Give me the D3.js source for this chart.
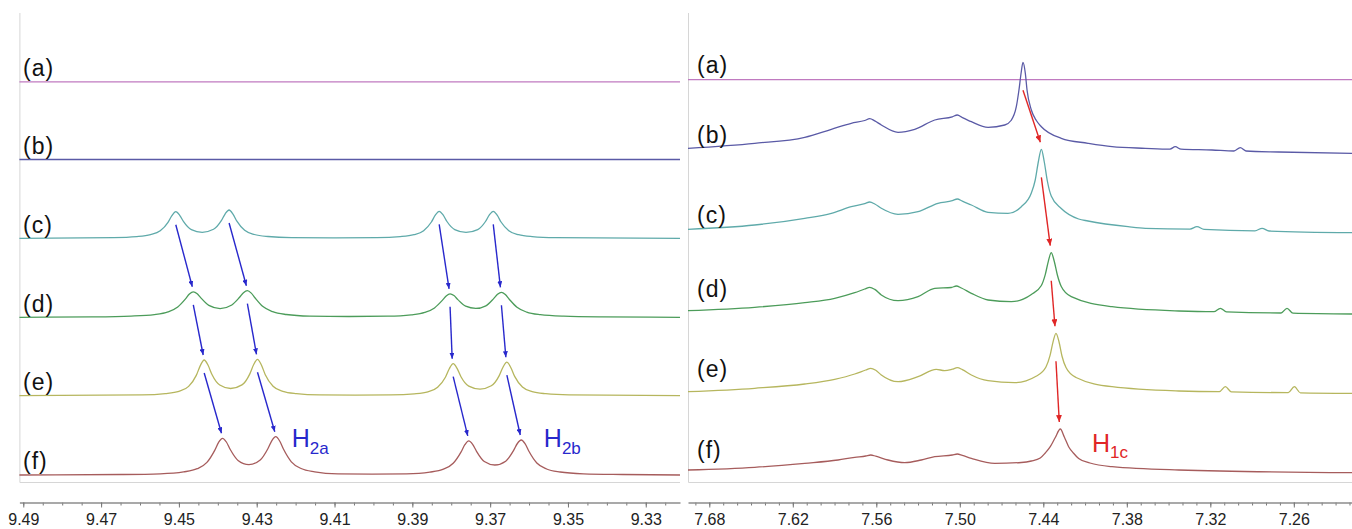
<!DOCTYPE html>
<html>
<head>
<meta charset="utf-8">
<script src="https://cdn.jsdelivr.net/npm/d3@7"></script>
<style>
  body { margin: 0; background: #fff; }
  svg { display: block; font-family: Arial, "Liberation Sans", sans-serif; }
</style>
</head>
<body>
<div id="chartDiv"></div>
<script>
// ---------- data ----------
const traceNames = ["(a)", "(b)", "(c)", "(d)", "(e)", "(f)"];
const traceColors = ["#c07ac0", "#5a5aa6", "#5faaaa", "#4c9c5a", "#b6b65e", "#a65c5c"];

const leftTicks = [9.49, 9.47, 9.45, 9.43, 9.41, 9.39, 9.37, 9.35, 9.33];
const rightTicks = [7.68, 7.62, 7.56, 7.50, 7.44, 7.38, 7.32, 7.26];

// H2 window (ppm, intensity a.u.)
const h2_a = [[9.4910, 0], [9.3212, 0]];
const h2_b = [[9.4910, 0], [9.3212, 0]];
const h2_c = [[9.4910,0],[9.4668,0.7],[9.4608,1.7],[9.4573,3.6],[9.4548,7.5],[9.4528,16.0],[9.4518,22.7],[9.4508,26.6],[9.4498,23.0],[9.4488,16.6],[9.4468,8.6],[9.4440,6.0],[9.4411,9.0],[9.4391,17.6],[9.4381,24.5],[9.4371,28.3],[9.4361,24.2],[9.4351,17.1],[9.4331,8.0],[9.4306,3.8],[9.4271,1.8],[9.4211,0.7],[9.4101,0.5],[9.3991,0.7],[9.3931,1.7],[9.3896,3.6],[9.3871,7.6],[9.3851,16.3],[9.3841,23.1],[9.3831,27.0],[9.3821,23.4],[9.3811,16.8],[9.3791,8.7],[9.3762,5.9],[9.3732,8.7],[9.3712,16.8],[9.3702,23.4],[9.3692,27.0],[9.3682,23.1],[9.3672,16.3],[9.3652,7.6],[9.3627,3.6],[9.3592,1.7],[9.3532,0.7],[9.3212,0]];
const h2_d = [[9.4910,0],[9.4723,0.4],[9.4623,1.2],[9.4563,2.7],[9.4528,5.4],[9.4503,10.3],[9.4483,18.4],[9.4473,23.2],[9.4463,25.5],[9.4453,23.6],[9.4443,19.2],[9.4423,11.9],[9.4394,8.7],[9.4364,12.3],[9.4344,20.0],[9.4334,24.6],[9.4324,26.6],[9.4314,24.2],[9.4304,19.3],[9.4284,10.7],[9.4259,5.6],[9.4224,2.8],[9.4164,1.2],[9.4064,0.8],[9.3963,1.1],[9.3903,2.5],[9.3868,4.9],[9.3843,9.4],[9.3823,16.9],[9.3813,21.3],[9.3803,23.5],[9.3793,21.7],[9.3783,17.7],[9.3763,11.1],[9.3737,8.9],[9.3711,11.5],[9.3691,18.7],[9.3681,23.0],[9.3671,25.0],[9.3661,22.7],[9.3651,18.1],[9.3631,10.0],[9.3606,5.2],[9.3571,2.6],[9.3511,1.1],[9.3411,0.4],[9.3212,0]];
const h2_e = [[9.4910,0],[9.4595,0.8],[9.4535,2.1],[9.4500,4.3],[9.4475,9.3],[9.4455,20.6],[9.4445,30.1],[9.4435,35.7],[9.4425,30.4],[9.4415,21.2],[9.4395,10.7],[9.4367,7.2],[9.4338,10.8],[9.4318,21.6],[9.4308,31.0],[9.4298,36.4],[9.4288,30.7],[9.4278,21.0],[9.4258,9.5],[9.4233,4.4],[9.4198,2.1],[9.4138,0.8],[9.4047,0.6],[9.3955,0.8],[9.3895,1.9],[9.3860,3.9],[9.3835,8.4],[9.3815,18.5],[9.3805,27.0],[9.3795,32.0],[9.3785,27.3],[9.3775,19.0],[9.3755,9.6],[9.3726,6.6],[9.3697,9.9],[9.3677,19.8],[9.3667,28.5],[9.3657,33.5],[9.3647,28.2],[9.3637,19.3],[9.3617,8.7],[9.3592,4.1],[9.3557,2.0],[9.3497,0.8],[9.3212,0]];
const h2_f = [[9.4910,0],[9.4648,0.5],[9.4548,1.2],[9.4488,3.1],[9.4453,6.3],[9.4428,12.6],[9.4408,24.6],[9.4398,32.6],[9.4388,36.7],[9.4378,33.0],[9.4368,25.5],[9.4348,14.6],[9.4320,10.4],[9.4291,15.0],[9.4271,26.5],[9.4261,34.4],[9.4251,38.3],[9.4241,34.0],[9.4231,25.7],[9.4211,13.2],[9.4186,6.5],[9.4151,3.2],[9.4091,1.2],[9.4003,0.9],[9.3915,1.2],[9.3855,2.9],[9.3820,5.8],[9.3795,11.7],[9.3775,22.9],[9.3765,30.3],[9.3755,34.1],[9.3745,30.7],[9.3735,23.7],[9.3715,13.5],[9.3688,10.0],[9.3660,13.8],[9.3640,24.3],[9.3630,31.5],[9.3620,35.0],[9.3610,31.1],[9.3600,23.5],[9.3580,12.0],[9.3555,6.0],[9.3520,3.0],[9.3460,1.2],[9.3360,0.5],[9.3212,0]];

// H1 window (ppm, intensity a.u.)
const h1_a = [[7.6953, 0], [7.2182, 0]];
const h1_b = [[7.6953,5.2],[7.6474,10.2],[7.6114,16.2],[7.5923,24.2],[7.5780,30.2],[7.5683,33.0],[7.5647,34.8],[7.5611,32.6],[7.5564,28.5],[7.5444,21.2],[7.5324,24.2],[7.5180,33.5],[7.5054,36.7],[7.5018,38.5],[7.4982,36.0],[7.4917,31.8],[7.4797,26.2],[7.4677,28.5],[7.4632,33],[7.4594,46.8],[7.4575,63.5],[7.4560,80],[7.4546,91.2],[7.4529,80],[7.4517,63.5],[7.4486,43.5],[7.4450,33],[7.4414,26.8],[7.4271,15.2],[7.4079,10.2],[7.3906,6.8],[7.3667,5.2],[7.3490,4.4],[7.3452,6.8],[7.3411,4.3],[7.3188,3.5],[7.3030,2.5],[7.2985,5.8],[7.2944,2.5],[7.2709,1.5],[7.2182,0.2]];
const h1_c = [[7.6953,3.7],[7.6474,8],[7.6114,14.7],[7.5923,19.7],[7.5780,26.3],[7.5683,29.3],[7.5647,31],[7.5611,29.0],[7.5564,24.7],[7.5444,18.7],[7.5300,21.3],[7.5157,29.7],[7.5054,32.3],[7.5018,34],[7.4982,31.8],[7.4917,28],[7.4797,20.7],[7.4654,19.7],[7.4558,26.3],[7.4486,40],[7.4458,53],[7.4436,71],[7.4414,83.7],[7.4393,71],[7.4371,52],[7.4343,37],[7.4271,24.5],[7.4146,14],[7.4079,12],[7.3791,6.3],[7.3667,4.7],[7.3346,3.9],[7.3296,6.3],[7.3245,3.6],[7.2879,2.2],[7.2828,4.7],[7.2778,2],[7.2182,0.3]];
const h1_d = [[7.6953,3.3],[7.6474,6.7],[7.6114,11.3],[7.5899,15.7],[7.5755,21.3],[7.5683,25],[7.5647,26.7],[7.5611,24.6],[7.5564,19],[7.5444,13.3],[7.5300,17.3],[7.5180,25.7],[7.5061,26.5],[7.5025,28],[7.4989,26],[7.4917,20.7],[7.4797,14],[7.4630,12.3],[7.4486,19.5],[7.4414,28.5],[7.4386,39.4],[7.4364,52.7],[7.4343,61.3],[7.4321,52.5],[7.4299,39],[7.4271,27.5],[7.4199,17.3],[7.3906,7.3],[7.3427,3],[7.3174,2.3],[7.3128,5.7],[7.3084,2.2],[7.2692,1],[7.2649,5.7],[7.2606,0.8],[7.2182,0]];
const h1_e = [[7.6953,2.3],[7.6474,5.7],[7.6114,10],[7.5899,14.7],[7.5755,20],[7.5676,24],[7.5640,25.7],[7.5604,23.7],[7.5564,19],[7.5444,12.3],[7.5300,17.3],[7.5169,24.7],[7.5109,23.3],[7.5054,24.8],[7.5018,26.3],[7.4982,24.4],[7.4917,19],[7.4797,13.3],[7.4606,11.3],[7.4452,17.7],[7.4381,27],[7.4352,38.3],[7.4330,52.2],[7.4309,60.7],[7.4287,52],[7.4266,38],[7.4237,26.5],[7.4165,16.5],[7.3906,7.3],[7.3427,3],[7.3135,2.3],[7.3092,7.3],[7.3049,2.2],[7.2640,1.4],[7.2596,7.3],[7.2553,1.2],[7.2182,0.7]];
const h1_f = [[7.6953,3],[7.6474,5.7],[7.6114,9.7],[7.5875,13],[7.5755,15.7],[7.5676,17],[7.5640,18],[7.5604,16.8],[7.5516,13],[7.5396,10.3],[7.5277,13],[7.5180,16.3],[7.5054,18],[7.5018,19],[7.4982,17.6],[7.4917,14.7],[7.4749,9.7],[7.4558,10.5],[7.4486,12],[7.4422,15],[7.4386,20],[7.4350,26.3],[7.4314,35.5],[7.4278,44],[7.4249,36],[7.4218,26.3],[7.4184,20],[7.4146,14.5],[7.4065,10],[7.3906,6.3],[7.3427,3],[7.2182,0.3]];

// peak shifts: [from ppm, to ppm, upper trace index]
const h2Shifts = [
  [9.4508, 9.4463, 2], [9.4371, 9.4324, 2], [9.3831, 9.3803, 2], [9.3692, 9.3671, 2],
  [9.4463, 9.4435, 3], [9.4324, 9.4298, 3], [9.3803, 9.3795, 3], [9.3671, 9.3657, 3],
  [9.4435, 9.4388, 4], [9.4298, 9.4251, 4], [9.3795, 9.3755, 4], [9.3657, 9.3620, 4]
];
const h1Shifts = [[7.4546, 7.4414, 1], [7.4414, 7.4343, 2], [7.4343, 7.4309, 3], [7.4309, 7.4278, 4]];

// peak labels: [main, subscript, ppm]
const h2Labels = [["H", "2a", 9.4210], ["H", "2b", 9.3562]];
const h1Labels = [["H", "1c", 7.4050]];

// ---------- layout ----------
const W = 1352, H = 529;
const axisY = 502.5, frameTop = 13, frameBottom = 482.5;

const panels = [
  {
    domain: [9.4910, 9.3212], range: [19.4, 680],
    traces: [h2_a, h2_b, h2_c, h2_d, h2_e, h2_f],
    base: [81.8, 159.5, 238.3, 317.3, 395.7, 475],
    labelX: 23, labelY: [76.2, 153.9, 232.7, 311.7, 390.1, 469.4],
    ticks: leftTicks, minor: d3.range(9325, 9495, 5).map(v => v / 1000),
    shifts: h2Shifts, shiftColor: "#2828cc", gapStart: 13, gapEnd: 5, head: "headBlue",
    peakLabels: h2Labels, peakLabelRise: 28
  },
  {
    domain: [7.6953, 7.2182], range: [688, 1352],
    traces: [h1_a, h1_b, h1_c, h1_d, h1_e, h1_f],
    base: [79.7, 153.5, 233, 314, 394, 473],
    labelX: 697, labelY: [73.4, 143.4, 223.4, 296.8, 376.8, 458.4],
    ticks: rightTicks, minor: d3.range(722, 770, 1).map(v => v / 100),
    shifts: h1Shifts, shiftColor: "#e02626", gapStart: 28, gapEnd: 7, head: "headRed",
    peakLabels: h1Labels, peakLabelRise: 21.3
  }
];

const svg = d3.select("#chartDiv").append("svg")
  .attr("width", W)
  .attr("height", H);

svg.append("rect").attr("width", W).attr("height", H).attr("fill", "#fff");

// arrow heads
const defs = svg.append("defs");
function makeHead(id, color, len, wid) {
  defs.append("marker")
    .attr("id", id)
    .attr("markerUnits", "userSpaceOnUse")
    .attr("viewBox", `0 0 ${len} ${wid}`)
    .attr("markerWidth", len)
    .attr("markerHeight", wid)
    .attr("refX", len)
    .attr("refY", wid / 2)
    .attr("orient", "auto")
    .append("path")
    .attr("d", `M0,0L${len},${wid / 2}L0,${wid}Z`)
    .attr("fill", color);
}
makeHead("headBlue", "#2828cc", 6, 5);
makeHead("headRed", "#e02626", 7, 6);

function peakNear(series, ppm) {
  return d3.max(series.filter(d => Math.abs(d[0] - ppm) < 0.0006), d => d[1]);
}

function drawPanel(p) {
  const x = d3.scaleLinear().domain(p.domain).range(p.range);
  // intensity scale per trace, 1 a.u. per pixel
  const yOf = i => d3.scaleLinear().domain([0, 100]).range([p.base[i], p.base[i] - 100]);

  const g = svg.append("g");

  // frame
  g.append("path")
    .attr("d", `M${p.range[0] + 0.5},${frameTop}V${frameBottom}H${p.range[1]}`)
    .attr("fill", "none")
    .attr("stroke", "#d6d6d6")
    .attr("stroke-width", 1);

  // spectra
  p.traces.forEach((series, i) => {
    const y = yOf(i);
    const line = d3.line()
      .x(d => x(d[0]))
      .y(d => y(d[1]))
      .curve(d3.curveMonotoneX);
    g.append("path")
      .datum(series)
      .attr("d", line)
      .attr("fill", "none")
      .attr("stroke", traceColors[i])
      .attr("stroke-width", 1.3);
  });

  // trace letters
  g.selectAll("text.trace")
    .data(traceNames)
    .enter().append("text")
    .attr("class", "trace")
    .attr("x", p.labelX)
    .attr("y", (d, i) => p.labelY[i])
    .attr("font-size", 23)
    .attr("letter-spacing", 1)
    .attr("fill", "#111")
    .text(d => d);

  // shift arrows
  p.shifts.forEach(s => {
    const up = s[2], lo = s[2] + 1;
    const topUp = yOf(up)(peakNear(p.traces[up], s[0]));
    const topLo = yOf(lo)(peakNear(p.traces[lo], s[1]));
    g.append("line")
      .attr("x1", x(s[0]))
      .attr("y1", topUp + p.gapStart)
      .attr("x2", x(s[1]) - 1)
      .attr("y2", topLo - p.gapEnd)
      .attr("stroke", p.shiftColor)
      .attr("stroke-width", 1.4)
      .attr("marker-end", `url(#${p.head})`);
  });

  // peak names
  const yLast = yOf(5);
  p.peakLabels.forEach(l => {
    const t = g.append("text")
      .attr("x", x(l[2]))
      .attr("y", yLast(p.peakLabelRise))
      .attr("fill", p.shiftColor)
      .attr("font-size", 25)
      .text(l[0]);
    t.append("tspan")
      .attr("dy", 6.5)
      .attr("font-size", 17)
      .text(l[1]);
  });

  // axis
  const axisG = svg.append("g").attr("transform", `translate(0,${axisY})`);
  axisG.append("g")
    .call(d3.axisBottom(x).tickValues(p.minor.filter(v => x(v) >= p.range[0] && x(v) <= p.range[1]))
      .tickSize(3).tickSizeOuter(0).tickFormat(""))
    .call(a => a.select(".domain").remove());
  axisG.append("g")
    .call(d3.axisBottom(x).tickValues(p.ticks).tickSize(5).tickPadding(6)
      .tickSizeOuter(0).tickFormat(d3.format(".2f")));
  axisG.selectAll(".domain").attr("stroke", "#8c8c8c").attr("stroke-width", 1.6);
  axisG.selectAll(".tick line").attr("stroke", "#777");
  axisG.selectAll(".tick text")
    .attr("font-size", 16)
    .attr("font-family", "Arial, 'Liberation Sans', sans-serif")
    .attr("fill", "#222");
}

panels.forEach(drawPanel);
</script>
</body>
</html>
